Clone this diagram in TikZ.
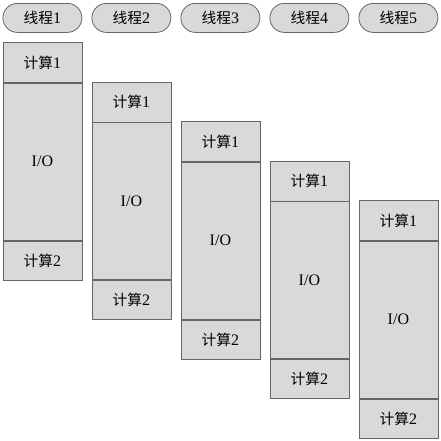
\documentclass[tikz,border=0pt]{standalone}
\usepackage{fontspec}
\setmainfont{Liberation Serif}
\newfontfamily\cjk{Noto Sans CJK SC}[Scale=0.92]
\begin{document}
\begin{tikzpicture}[x=1pt,y=-1pt,
  pill/.style={draw=black!60,fill=black!15,rounded corners=14.5pt,line width=0.8pt,minimum width=79pt,minimum height=29pt,inner sep=0pt,font=\fontsize{16}{18}\selectfont,anchor=north west},
  cell/.style={draw=black!60,fill=black!15,line width=0.8pt,minimum width=79pt,inner sep=0pt,font=\fontsize{16}{18}\selectfont,anchor=north west}]
\useasboundingbox (0,0) rectangle (441,440);
\foreach \i in {1,...,5}{
  \pgfmathsetmacro{\xx}{2.5+89*(\i-1)}
  \pgfmathsetmacro{\yy}{42+39.5*(\i-1)}
  \node[pill] (t\i) at (\xx,3) {{\cjk 线程}\i};
  \node[cell,minimum height=40pt] (a\i) at (\xx,\yy) {{\cjk 计算}1};
  \node[cell,minimum height=157pt] (b\i) at (a\i.south west) {I/O};
  \node[cell,minimum height=39pt] (c\i) at (b\i.south west) {{\cjk 计算}2};
}
\end{tikzpicture}
\end{document}
